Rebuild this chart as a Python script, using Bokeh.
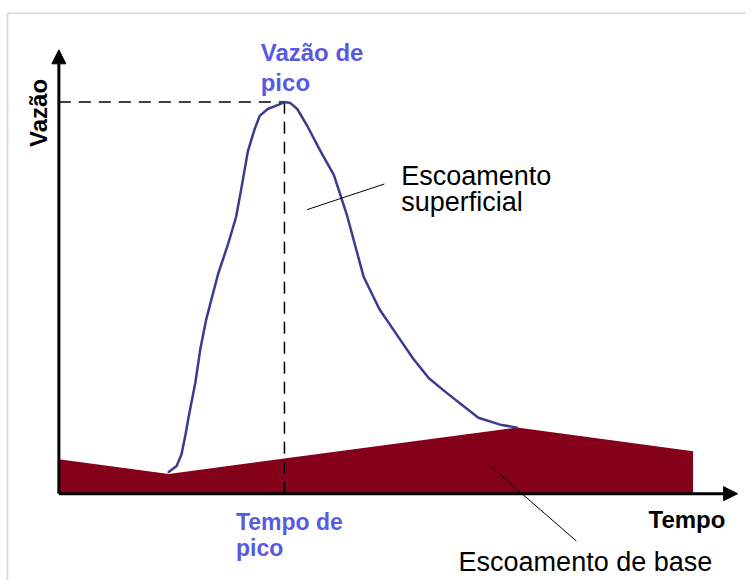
import math
from bokeh.plotting import figure
from bokeh.models import Range1d, Arrow, NormalHead
from bokeh.core.properties import value
from bokeh.embed import file_html
from bokeh.resources import INLINE

# ---- data (schematic hydrograph, arbitrary units) ----
hydro_t = [11.1, 11.9, 12.4, 12.8, 13.1, 13.8, 14.3, 14.9, 16.1, 17.1, 17.9, 18.4,
           19.1, 19.8, 20.3, 21.1, 22.1, 22.8, 23.4, 24.1, 25.1, 26.4, 27.8, 29.1,
           30.8, 32.4, 34.1, 35.8, 37.4, 39.1, 42.4, 44.6, 46.3]
hydro_q = [2.2, 2.8, 4.0, 6.0, 7.7, 11.3, 14.7, 17.7, 22.3, 25.3, 28.0, 30.7,
           34.7, 37.0, 38.3, 39.0, 39.4, 39.7, 39.6, 39.0, 37.3, 34.8, 32.3, 28.3,
           22.0, 18.7, 16.2, 13.7, 11.7, 10.3, 7.7, 7.0, 6.7]
base_t = [0.0, 11.1, 46.3, 64.1]
base_q = [3.5, 2.0, 6.7, 4.3]

peak_i = hydro_q.index(max(hydro_q))
peak_t, peak_q = hydro_t[peak_i], hydro_q[peak_i]

BLUE_TXT = "#5a5ae0"
CURVE = "#3b3b8f"
BASE = "#85001b"
DY = 0.9  # raise labels so their baselines sit where intended

p = figure(width=745, height=580, output_backend="svg", toolbar_location=None,
           x_range=Range1d(-5.9, 69.4), y_range=Range1d(-8.8, 50.0),
           min_border=0, outline_line_color=None)
p.axis.visible = False
p.grid.visible = False
p.background_fill_color = "white"
p.border_fill_color = "white"

# light gray frame
p.line([-5.2, -5.2], [-8.8, 48.7], line_color="#dcdcdc", line_width=2)
p.line([-5.2, 69.4], [48.7, 48.7], line_color="#dcdcdc", line_width=2)

# base flow
p.varea(x=base_t, y1=[0] * len(base_t), y2=base_q, fill_color=BASE)

# dashed peak guides
p.line([0, peak_t], [peak_q, peak_q], line_color="black", line_width=1.5, line_dash="12 8")
p.line([peak_t, peak_t], [0, peak_q], line_color="black", line_width=1.5, line_dash="12 8")

# hydrograph
p.line(hydro_t, hydro_q, line_color=CURVE, line_width=2.5, line_join="round", line_cap="round")

# axes with arrows
p.add_layout(Arrow(end=NormalHead(size=14, fill_color="black", line_color="black"),
                   x_start=0, y_start=0, x_end=0, y_end=45.0,
                   line_width=3, line_color="black"))
p.add_layout(Arrow(end=NormalHead(size=14, fill_color="black", line_color="black"),
                   x_start=0, y_start=0, x_end=68.6, y_end=0,
                   line_width=3, line_color="black"))

# pointer lines
p.line([25.1, 32.9], [28.8, 31.4], line_color="black", line_width=1)
p.line([43.6, 52.3], [2.8, -4.8], line_color="black", line_width=1)

font = value("Liberation Sans")
# blue bold labels
p.text(x=[20.4, 20.4], y=[43.8 + DY, 40.8 + DY], text=["Vazão de", "pico"],
       text_font=font, text_font_size="24px", text_font_style="bold",
       text_color=BLUE_TXT, text_baseline="alphabetic", text_align="left")
p.text(x=[17.9, 17.9], y=[-3.8 + DY, -6.4 + DY], text=["Tempo de", "pico"],
       text_font=font, text_font_size="23px", text_font_style="bold",
       text_color=BLUE_TXT, text_baseline="alphabetic", text_align="left")
# axis titles
p.text(x=[59.6], y=[-3.5 + DY], text=["Tempo"], text_font=font, text_font_size="24px",
       text_font_style="bold", text_color="black", text_baseline="alphabetic", text_align="left")
p.text(x=[-2.1], y=[38.6], text=["Vazão"], angle=math.pi / 2, text_font=font,
       text_font_size="24px", text_font_style="bold", text_color="black",
       text_baseline="middle", text_align="center")
# black regular labels
p.text(x=[34.6, 34.6], y=[31.3 + DY, 28.7 + DY], text=["Escoamento", "superficial"],
       text_font=font, text_font_size="27px", text_color="black",
       text_baseline="alphabetic", text_align="left")
p.text(x=[40.4], y=[-7.8 + DY], text=["Escoamento de base"],
       text_font=font, text_font_size="27px", text_color="black",
       text_baseline="alphabetic", text_align="left")

open("out.html", "w").write(file_html(p, INLINE))
